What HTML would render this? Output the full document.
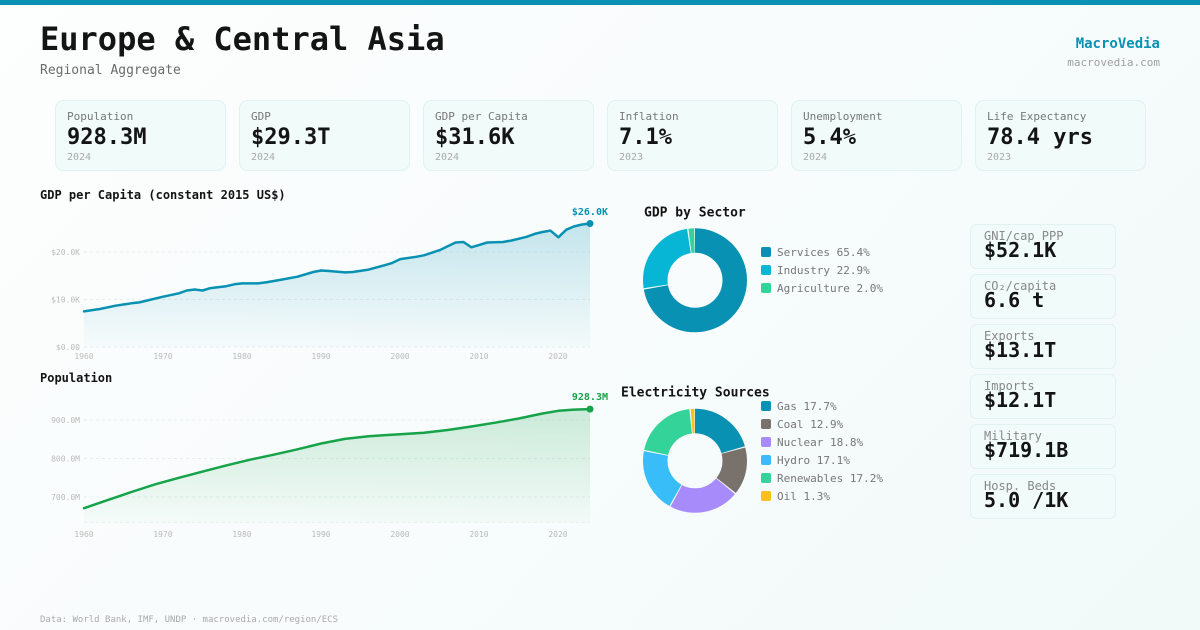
<!DOCTYPE html>
<html>
<head>
<meta charset="utf-8">
<style>
  html,body{margin:0;padding:0;}
  body{width:1200px;height:630px;overflow:hidden;background:linear-gradient(135deg,#fdfefe 0%,#f8fcfc 50%,#f1f9f9 100%);}
  svg{display:block;font-family:"DejaVu Sans Mono","Liberation Mono",monospace;}
</style>
</head>
<body>
<svg width="1200" height="630" viewBox="0 0 1200 630" xmlns="http://www.w3.org/2000/svg">
  <defs>
    <linearGradient id="gGdp" x1="0" y1="0" x2="0" y2="1">
      <stop offset="0" stop-color="#0891b2" stop-opacity="0.22"/>
      <stop offset="1" stop-color="#0891b2" stop-opacity="0.02"/>
    </linearGradient>
    <linearGradient id="gPop" x1="0" y1="0" x2="0" y2="1">
      <stop offset="0" stop-color="#16a34a" stop-opacity="0.2"/>
      <stop offset="1" stop-color="#16a34a" stop-opacity="0.02"/>
    </linearGradient>
  </defs>

  <!-- top bar -->
  <rect x="0" y="0" width="1200" height="5" fill="#0891b2"/>

  <!-- header -->
  <text x="40" y="50" font-size="32" font-weight="bold" fill="#141414">Europe &amp; Central Asia</text>
  <text x="40" y="74" font-size="13" fill="#6b6b6b">Regional Aggregate</text>
  <text x="1160" y="48" font-size="14" font-weight="bold" fill="#0891b2" text-anchor="end">MacroVedia</text>
  <text x="1160" y="66" font-size="11" fill="#a0a0a0" text-anchor="end">macrovedia.com</text>

  <!-- KPI cards -->
  <g>
    <rect x="55.5" y="100.5" width="170" height="70" rx="8" fill="#f0fbfa" stroke="#e2f2f0"/>
    <text x="67" y="120" font-size="11" fill="#777">Population</text>
    <text x="67" y="144" font-size="22" font-weight="bold" fill="#141414">928.3M</text>
    <text x="67" y="160" font-size="10" fill="#aaa">2024</text>

    <rect x="239.5" y="100.5" width="170" height="70" rx="8" fill="#f0fbfa" stroke="#e2f2f0"/>
    <text x="251" y="120" font-size="11" fill="#777">GDP</text>
    <text x="251" y="144" font-size="22" font-weight="bold" fill="#141414">$29.3T</text>
    <text x="251" y="160" font-size="10" fill="#aaa">2024</text>

    <rect x="423.5" y="100.5" width="170" height="70" rx="8" fill="#f0fbfa" stroke="#e2f2f0"/>
    <text x="435" y="120" font-size="11" fill="#777">GDP per Capita</text>
    <text x="435" y="144" font-size="22" font-weight="bold" fill="#141414">$31.6K</text>
    <text x="435" y="160" font-size="10" fill="#aaa">2024</text>

    <rect x="607.5" y="100.5" width="170" height="70" rx="8" fill="#f0fbfa" stroke="#e2f2f0"/>
    <text x="619" y="120" font-size="11" fill="#777">Inflation</text>
    <text x="619" y="144" font-size="22" font-weight="bold" fill="#141414">7.1%</text>
    <text x="619" y="160" font-size="10" fill="#aaa">2023</text>

    <rect x="791.5" y="100.5" width="170" height="70" rx="8" fill="#f0fbfa" stroke="#e2f2f0"/>
    <text x="803" y="120" font-size="11" fill="#777">Unemployment</text>
    <text x="803" y="144" font-size="22" font-weight="bold" fill="#141414">5.4%</text>
    <text x="803" y="160" font-size="10" fill="#aaa">2024</text>

    <rect x="975.5" y="100.5" width="170" height="70" rx="8" fill="#f0fbfa" stroke="#e2f2f0"/>
    <text x="987" y="120" font-size="11" fill="#777">Life Expectancy</text>
    <text x="987" y="144" font-size="22" font-weight="bold" fill="#141414">78.4 yrs</text>
    <text x="987" y="160" font-size="10" fill="#aaa">2023</text>
  </g>

  <!-- GDP per capita chart -->
  <text x="40" y="199" font-size="12" font-weight="bold" fill="#141414">GDP per Capita (constant 2015 US$)</text>
  <g stroke="#e6eded" stroke-width="1" stroke-dasharray="3,3">
    <line x1="84" y1="252" x2="590" y2="252"/>
    <line x1="84" y1="299.5" x2="590" y2="299.5"/>
    <line x1="84" y1="347" x2="590" y2="347"/>
  </g>
  <g font-size="8" fill="#bbbbbb" text-anchor="end">
    <text x="80" y="255">$20.0K</text>
    <text x="80" y="302.5">$10.0K</text>
    <text x="80" y="350">$0.00</text>
  </g>
  <g font-size="8" fill="#bbbbbb" text-anchor="middle">
    <text x="84" y="359">1960</text>
    <text x="163" y="359">1970</text>
    <text x="242" y="359">1980</text>
    <text x="321" y="359">1990</text>
    <text x="400" y="359">2000</text>
    <text x="479" y="359">2010</text>
    <text x="558" y="359">2020</text>
  </g>
  <path d="M84,311.4 L99.8,309 L115.6,305.7 L131.4,303.3 L139.3,302.4 L147.2,300.5 L163.1,296.7 L178.9,293.3 L186.8,290.5 L194.7,289.5 L202.6,290.5 L210.5,288.1 L226.3,286.2 L234.3,284.3 L242.1,283.4 L257.9,283.4 L265.9,282.4 L281.7,279.6 L297.5,276.7 L313.3,272 L321.2,270.5 L329.1,271 L344.9,272.4 L352.8,272 L368.6,269.6 L384.4,265.3 L392.3,262.9 L400.2,259.1 L416.1,256.8 L424,255.3 L439.8,250.1 L447.7,246.3 L455.6,242.5 L463.5,242 L471.4,247.3 L479.3,244.9 L487.2,242.5 L503,242 L511,240.6 L526.7,236.8 L534.6,233.9 L542.5,232 L550.4,230.6 L558.4,237.3 L566.3,229.7 L574.2,226.4 L582.1,224.5 L590,223.5 L590,347 L84,347 Z" fill="url(#gGdp)"/>
  <path d="M84,311.4 L99.8,309 L115.6,305.7 L131.4,303.3 L139.3,302.4 L147.2,300.5 L163.1,296.7 L178.9,293.3 L186.8,290.5 L194.7,289.5 L202.6,290.5 L210.5,288.1 L226.3,286.2 L234.3,284.3 L242.1,283.4 L257.9,283.4 L265.9,282.4 L281.7,279.6 L297.5,276.7 L313.3,272 L321.2,270.5 L329.1,271 L344.9,272.4 L352.8,272 L368.6,269.6 L384.4,265.3 L392.3,262.9 L400.2,259.1 L416.1,256.8 L424,255.3 L439.8,250.1 L447.7,246.3 L455.6,242.5 L463.5,242 L471.4,247.3 L479.3,244.9 L487.2,242.5 L503,242 L511,240.6 L526.7,236.8 L534.6,233.9 L542.5,232 L550.4,230.6 L558.4,237.3 L566.3,229.7 L574.2,226.4 L582.1,224.5 L590,223.5" fill="none" stroke="#0891b2" stroke-width="2.5" stroke-linejoin="round" stroke-linecap="round"/>
  <circle cx="590" cy="223.5" r="3.5" fill="#0891b2"/>
  <text x="608" y="215" font-size="10" font-weight="bold" fill="#0891b2" text-anchor="end">$26.0K</text>

  <!-- Population chart -->
  <text x="40" y="382" font-size="12" font-weight="bold" fill="#141414">Population</text>
  <g stroke="#e6eded" stroke-width="1" stroke-dasharray="3,3">
    <line x1="84" y1="420" x2="590" y2="420"/>
    <line x1="84" y1="458.5" x2="590" y2="458.5"/>
    <line x1="84" y1="497" x2="590" y2="497"/>
    <line x1="84" y1="522.5" x2="590" y2="522.5" stroke="#eef3f3"/>
  </g>
  <g font-size="8" fill="#bbbbbb" text-anchor="end">
    <text x="80" y="423">900.0M</text>
    <text x="80" y="461.5">800.0M</text>
    <text x="80" y="500">700.0M</text>
  </g>
  <g font-size="8" fill="#bbbbbb" text-anchor="middle">
    <text x="84" y="537">1960</text>
    <text x="163" y="537">1970</text>
    <text x="242" y="537">1980</text>
    <text x="321" y="537">1990</text>
    <text x="400" y="537">2000</text>
    <text x="479" y="537">2010</text>
    <text x="558" y="537">2020</text>
  </g>
  <path d="M84,508.2 L107.7,500.1 L131.4,492 L155.2,484.3 L178.9,477.8 L202.6,471.6 L226.3,465.4 L250,459.7 L273.7,454.7 L297.5,449.3 L321.2,443.5 L344.9,438.9 L368.6,436.2 L400.2,434.2 L424,432.7 L447.7,430 L471.4,426.5 L495.1,422.7 L518.8,418.5 L542.5,413.5 L558.4,410.8 L574.2,409.6 L590,409.1 L590,523 L84,523 Z" fill="url(#gPop)"/>
  <path d="M84,508.2 L107.7,500.1 L131.4,492 L155.2,484.3 L178.9,477.8 L202.6,471.6 L226.3,465.4 L250,459.7 L273.7,454.7 L297.5,449.3 L321.2,443.5 L344.9,438.9 L368.6,436.2 L400.2,434.2 L424,432.7 L447.7,430 L471.4,426.5 L495.1,422.7 L518.8,418.5 L542.5,413.5 L558.4,410.8 L574.2,409.6 L590,409.1" fill="none" stroke="#16a34a" stroke-width="2.5" stroke-linejoin="round" stroke-linecap="round"/>
  <circle cx="590" cy="409.1" r="3.5" fill="#16a34a"/>
  <text x="608" y="400" font-size="10" font-weight="bold" fill="#16a34a" text-anchor="end">928.3M</text>

  <!-- GDP by Sector donut -->
  <text x="644" y="216.5" font-size="13" font-weight="bold" fill="#141414">GDP by Sector</text>
  <g transform="rotate(-90 695 280.3)" fill="none" stroke-width="24.5">
    <circle cx="695" cy="280.3" r="39.75" stroke="#0891b2" stroke-dasharray="179.9 300" stroke-dashoffset="0"/>
    <circle cx="695" cy="280.3" r="39.75" stroke="#06b6d4" stroke-dasharray="62.3 300" stroke-dashoffset="-180.9"/>
    <circle cx="695" cy="280.3" r="39.75" stroke="#34d399" stroke-dasharray="4.5 300" stroke-dashoffset="-244.24"/>
  </g>
  <g font-size="11" fill="#777">
    <rect x="761" y="247" width="10" height="10" rx="2" fill="#0891b2"/>
    <text x="777" y="256">Services 65.4%</text>
    <rect x="761" y="265" width="10" height="10" rx="2" fill="#06b6d4"/>
    <text x="777" y="274">Industry 22.9%</text>
    <rect x="761" y="283" width="10" height="10" rx="2" fill="#34d399"/>
    <text x="777" y="292">Agriculture 2.0%</text>
  </g>

  <!-- Electricity donut -->
  <text x="621" y="396.5" font-size="13" font-weight="bold" fill="#141414">Electricity Sources</text>
  <g transform="rotate(-90 695 460.8)" fill="none" stroke-width="24.5">
    <circle cx="695" cy="460.8" r="39.75" stroke="#0891b2" stroke-dasharray="51.0 300" stroke-dashoffset="0"/>
    <circle cx="695" cy="460.8" r="39.75" stroke="#78716c" stroke-dasharray="36.9 300" stroke-dashoffset="-52.01"/>
    <circle cx="695" cy="460.8" r="39.75" stroke="#a78bfa" stroke-dasharray="54.24 300" stroke-dashoffset="-89.91"/>
    <circle cx="695" cy="460.8" r="39.75" stroke="#38bdf8" stroke-dasharray="49.25 300" stroke-dashoffset="-145.15"/>
    <circle cx="695" cy="460.8" r="39.75" stroke="#34d399" stroke-dasharray="49.54 300" stroke-dashoffset="-195.40"/>
    <circle cx="695" cy="460.8" r="39.75" stroke="#fbbf24" stroke-dasharray="2.9 300" stroke-dashoffset="-245.94"/>
  </g>
  <g font-size="11" fill="#777">
    <rect x="761" y="401" width="10" height="10" rx="2" fill="#0891b2"/>
    <text x="777" y="410">Gas 17.7%</text>
    <rect x="761" y="419" width="10" height="10" rx="2" fill="#78716c"/>
    <text x="777" y="428">Coal 12.9%</text>
    <rect x="761" y="437" width="10" height="10" rx="2" fill="#a78bfa"/>
    <text x="777" y="446">Nuclear 18.8%</text>
    <rect x="761" y="455" width="10" height="10" rx="2" fill="#38bdf8"/>
    <text x="777" y="464">Hydro 17.1%</text>
    <rect x="761" y="473" width="10" height="10" rx="2" fill="#34d399"/>
    <text x="777" y="482">Renewables 17.2%</text>
    <rect x="761" y="491" width="10" height="10" rx="2" fill="#fbbf24"/>
    <text x="777" y="500">Oil 1.3%</text>
  </g>

  <!-- right side cards -->
  <g>
    <rect x="970.5" y="224.5" width="145" height="44" rx="6" fill="#f0fbfa" stroke="#e2f2f0"/>
    <text x="984" y="240" font-size="12" fill="#888">GNI/cap PPP</text>
    <text x="984" y="257" font-size="20" font-weight="bold" fill="#141414">$52.1K</text>

    <rect x="970.5" y="274.5" width="145" height="44" rx="6" fill="#f0fbfa" stroke="#e2f2f0"/>
    <text x="984" y="290" font-size="12" fill="#888">CO₂/capita</text>
    <text x="984" y="307" font-size="20" font-weight="bold" fill="#141414">6.6 t</text>

    <rect x="970.5" y="324.5" width="145" height="44" rx="6" fill="#f0fbfa" stroke="#e2f2f0"/>
    <text x="984" y="340" font-size="12" fill="#888">Exports</text>
    <text x="984" y="357" font-size="20" font-weight="bold" fill="#141414">$13.1T</text>

    <rect x="970.5" y="374.5" width="145" height="44" rx="6" fill="#f0fbfa" stroke="#e2f2f0"/>
    <text x="984" y="390" font-size="12" fill="#888">Imports</text>
    <text x="984" y="407" font-size="20" font-weight="bold" fill="#141414">$12.1T</text>

    <rect x="970.5" y="424.5" width="145" height="44" rx="6" fill="#f0fbfa" stroke="#e2f2f0"/>
    <text x="984" y="440" font-size="12" fill="#888">Military</text>
    <text x="984" y="457" font-size="20" font-weight="bold" fill="#141414">$719.1B</text>

    <rect x="970.5" y="474.5" width="145" height="44" rx="6" fill="#f0fbfa" stroke="#e2f2f0"/>
    <text x="984" y="490" font-size="12" fill="#888">Hosp. Beds</text>
    <text x="984" y="507" font-size="20" font-weight="bold" fill="#141414">5.0 /1K</text>
  </g>

  <!-- footer -->
  <text x="40" y="622" font-size="9" fill="#aaaaaa">Data: World Bank, IMF, UNDP · macrovedia.com/region/ECS</text>
</svg>
</body>
</html>
